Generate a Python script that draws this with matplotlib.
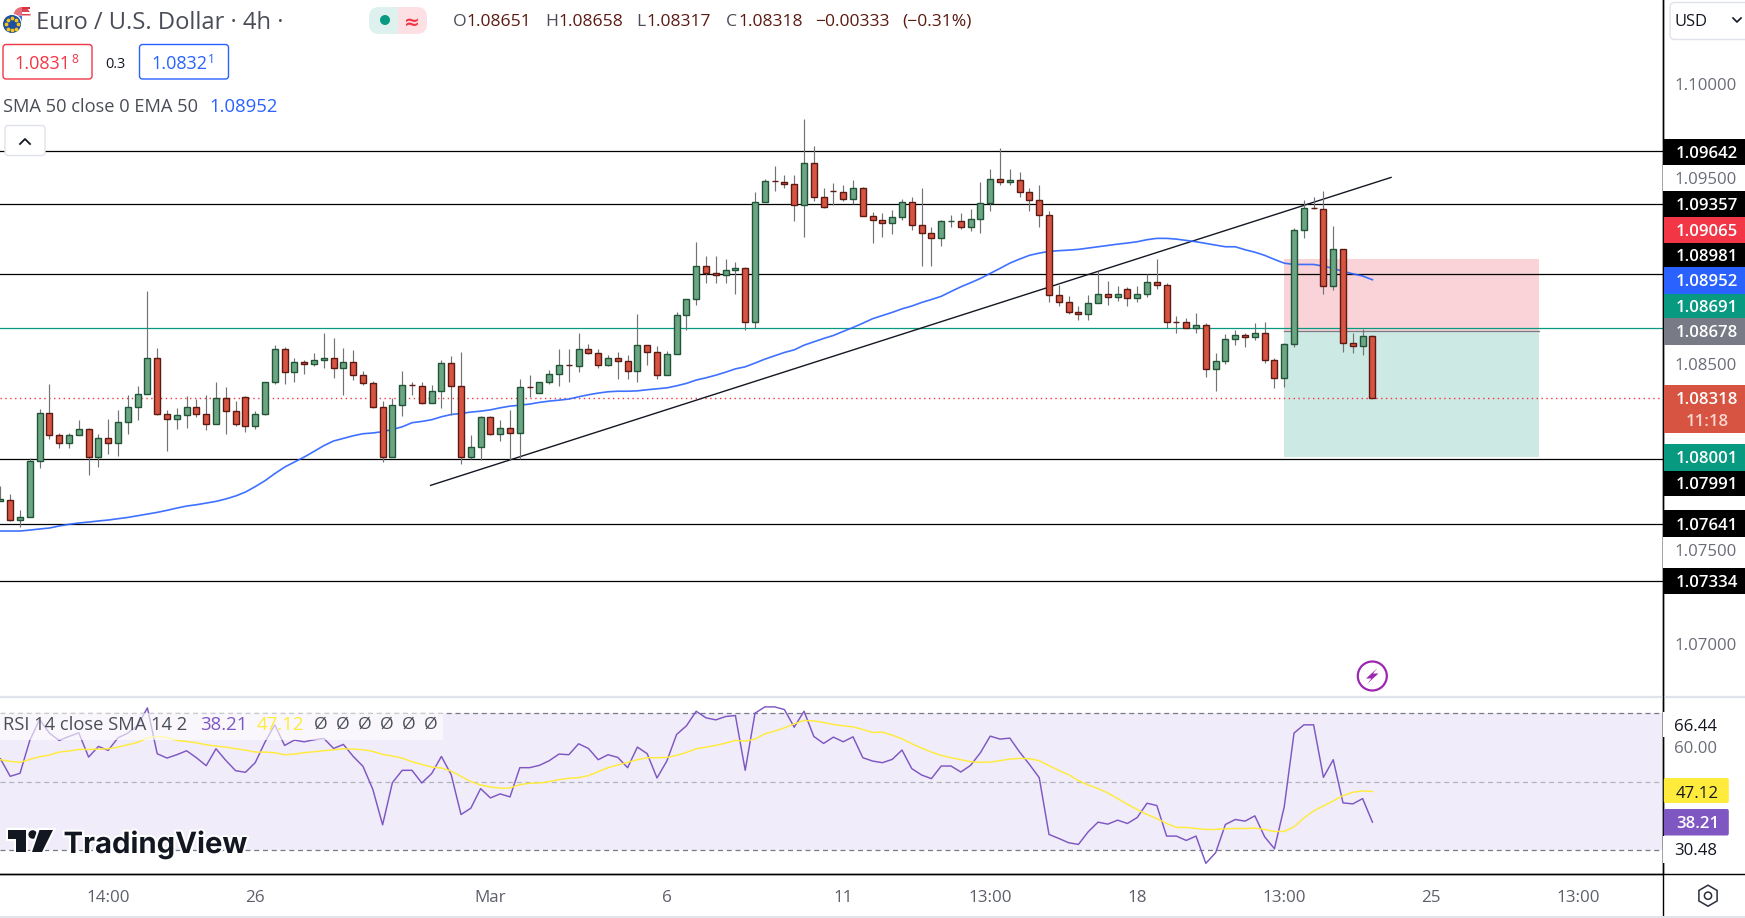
import matplotlib
matplotlib.use("Agg")
import matplotlib.pyplot as plt
import matplotlib.patheffects as pe
from matplotlib.patches import Rectangle, FancyBboxPatch, Circle, Polygon, RegularPolygon, Wedge
import numpy as np

# ---------- data ----------
opens = [1.07767,1.07772,1.07663,1.07681,1.07981,1.08239,1.08121,1.08078,1.08121,1.08153,
1.08001,1.08105,1.08078,1.08191,1.08271,1.08341,1.08534,1.08233,1.08207,1.08228,
1.08271,1.08233,1.08180,1.08319,1.08250,1.08325,1.08169,1.08233,1.08405,1.08582,
1.08459,1.08512,1.08502,1.08523,1.08534,1.08480,1.08512,1.08443,1.08400,1.08271,
1.08001,1.08281,1.08388,1.08383,1.08292,1.08354,1.08506,1.08383,1.08000,1.08056,
1.08217,1.08126,1.08158,1.08131,1.08378,1.08346,1.08405,1.08447,1.08496,1.08490,
1.08582,1.08560,1.08496,1.08533,1.08517,1.08464,1.08603,1.08565,1.08442,1.08555,
1.08764,1.08850,1.09027,1.08989,1.08979,1.09005,1.09016,1.08726,1.09370,1.09483,
1.09477,1.09467,1.09354,1.09580,1.09397,1.09429,1.09424,1.09386,1.09445,1.09295,
1.09274,1.09258,1.09290,1.09370,1.09247,1.09204,1.09177,1.09265,1.09268,1.09236,
1.09279,1.09365,1.09494,1.09478,1.09488,1.09424,1.09381,1.09301,1.08872,1.08834,
1.08780,1.08770,1.08829,1.08877,1.08861,1.08904,1.08855,1.08877,1.08941,1.08925,
1.08727,1.08727,1.08694,1.08711,1.08475,1.08517,1.08635,1.08657,1.08646,1.08668,
1.08523,1.08426,1.08609,1.09220,1.09338,1.09333,1.08920,1.09118,1.08614,1.08598,1.08651]
highs = [1.07845,1.07801,1.07715,1.07997,1.08257,1.08391,1.08132,1.08132,1.08198,1.08158,
1.08123,1.08203,1.08251,1.08332,1.08380,1.08889,1.08587,1.08251,1.08266,1.08326,
1.08310,1.08332,1.08401,1.08375,1.08300,1.08326,1.08246,1.08405,1.08600,1.08591,
1.08530,1.08519,1.08557,1.08664,1.08637,1.08584,1.08573,1.08464,1.08407,1.08300,
1.08319,1.08460,1.08406,1.08406,1.08385,1.08523,1.08544,1.08562,1.08117,1.08222,
1.08222,1.08201,1.08251,1.08421,1.08439,1.08405,1.08469,1.08583,1.08578,1.08669,
1.08610,1.08583,1.08549,1.08562,1.08549,1.08766,1.08603,1.08594,1.08571,1.08780,
1.08850,1.09157,1.09082,1.09077,1.09061,1.09045,1.09021,1.09424,1.09494,1.09560,
1.09512,1.09512,1.09812,1.09667,1.09442,1.09469,1.09458,1.09485,1.09451,1.09318,
1.09308,1.09324,1.09383,1.09394,1.09442,1.09233,1.09274,1.09297,1.09308,1.09329,
1.09479,1.09544,1.09660,1.09547,1.09531,1.09442,1.09458,1.09319,1.08925,1.08866,
1.08809,1.08872,1.09000,1.08947,1.08920,1.08914,1.08920,1.08982,1.09065,1.08936,
1.08755,1.08748,1.08771,1.08721,1.08560,1.08659,1.08680,1.08668,1.08718,1.08723,
1.08530,1.08614,1.09231,1.09378,1.09394,1.09426,1.09238,1.09118,1.08664,1.08686,1.08658]
lows = [1.07767,1.07656,1.07626,1.07681,1.07940,1.08096,1.08049,1.08049,1.08121,1.07904,
1.07946,1.08015,1.08006,1.08123,1.08199,1.08341,1.08224,1.08031,1.08149,1.08157,
1.08214,1.08146,1.08180,1.08123,1.08167,1.08135,1.08151,1.08228,1.08391,1.08391,
1.08401,1.08444,1.08489,1.08477,1.08423,1.08332,1.08412,1.08389,1.08264,1.07972,
1.08001,1.08220,1.08333,1.08285,1.08292,1.08263,1.08229,1.07963,1.07990,1.07984,
1.08118,1.08085,1.07986,1.07990,1.08322,1.08346,1.08392,1.08381,1.08406,1.08455,
1.08553,1.08481,1.08487,1.08417,1.08422,1.08406,1.08492,1.08422,1.08442,1.08555,
1.08680,1.08814,1.08932,1.08937,1.08937,1.08878,1.08682,1.08694,1.09370,1.09426,
1.09442,1.09265,1.09179,1.09372,1.09336,1.09354,1.09372,1.09356,1.09293,1.09147,
1.09184,1.09195,1.09270,1.09217,1.09025,1.09025,1.09131,1.09233,1.09224,1.09211,
1.09201,1.09319,1.09458,1.09458,1.09394,1.09319,1.09233,1.08830,1.08809,1.08766,
1.08734,1.08734,1.08829,1.08814,1.08836,1.08809,1.08830,1.08861,1.08900,1.08694,
1.08664,1.08694,1.08669,1.08428,1.08353,1.08498,1.08600,1.08589,1.08627,1.08503,
1.08369,1.08374,1.08589,1.09174,1.09333,1.08873,1.08895,1.08562,1.08557,1.08551,1.08317]
closes = [1.07774,1.07665,1.07681,1.07981,1.08239,1.08119,1.08078,1.08121,1.08153,1.08001,
1.08105,1.08078,1.08191,1.08271,1.08341,1.08534,1.08233,1.08207,1.08228,1.08271,
1.08233,1.08180,1.08319,1.08250,1.08180,1.08169,1.08233,1.08405,1.08582,1.08459,
1.08512,1.08502,1.08523,1.08534,1.08480,1.08512,1.08443,1.08400,1.08271,1.08001,
1.08282,1.08388,1.08385,1.08292,1.08354,1.08506,1.08383,1.08000,1.08056,1.08217,
1.08126,1.08158,1.08131,1.08378,1.08375,1.08405,1.08447,1.08496,1.08493,1.08582,
1.08560,1.08496,1.08533,1.08517,1.08464,1.08603,1.08565,1.08442,1.08555,1.08764,
1.08850,1.09027,1.08987,1.08979,1.09005,1.09016,1.08726,1.09370,1.09483,1.09480,
1.09465,1.09354,1.09580,1.09397,1.09343,1.09426,1.09386,1.09445,1.09295,1.09274,
1.09257,1.09290,1.09370,1.09247,1.09204,1.09177,1.09268,1.09268,1.09236,1.09279,
1.09365,1.09494,1.09478,1.09488,1.09424,1.09381,1.09301,1.08872,1.08834,1.08780,
1.08770,1.08829,1.08877,1.08861,1.08877,1.08855,1.08877,1.08941,1.08925,1.08727,
1.08724,1.08694,1.08711,1.08475,1.08517,1.08635,1.08657,1.08646,1.08668,1.08523,
1.08426,1.08609,1.09220,1.09338,1.09335,1.08920,1.09118,1.08614,1.08598,1.08652,1.08318]
ema50 = [1.07604,1.07604,1.07604,1.07609,1.07615,1.07620,1.07631,1.07640,1.07647,1.07652,
1.07658,1.07663,1.07670,1.07677,1.07686,1.07695,1.07704,1.07715,1.07727,1.07738,
1.07745,1.07754,1.07763,1.07776,1.07792,1.07813,1.07842,1.07874,1.07912,1.07947,
1.07974,1.08001,1.08031,1.08062,1.08087,1.08101,1.08115,1.08126,1.08130,1.08137,
1.08149,1.08163,1.08185,1.08192,1.08201,1.08217,1.08229,1.08235,1.08242,1.08247,
1.08254,1.08265,1.08274,1.08279,1.08285,1.08294,1.08301,1.08306,1.08312,1.08324,
1.08335,1.08344,1.08351,1.08354,1.08354,1.08356,1.08362,1.08367,1.08372,1.08383,
1.08396,1.08414,1.08426,1.08440,1.08456,1.08474,1.08485,1.08505,1.08526,1.08544,
1.08562,1.08576,1.08601,1.08619,1.08637,1.08653,1.08675,1.08696,1.08719,1.08743,
1.08760,1.08777,1.08796,1.08811,1.08830,1.08846,1.08863,1.08889,1.08914,1.08936,
1.08959,1.08986,1.09013,1.09041,1.09063,1.09083,1.09095,1.09104,1.09108,1.09111,
1.09115,1.09122,1.09129,1.09136,1.09143,1.09149,1.09156,1.09167,1.09174,1.09174,
1.09170,1.09163,1.09156,1.09147,1.09138,1.09129,1.09129,1.09113,1.09100,1.09083,
1.09061,1.09041,1.09034,1.09034,1.09034,1.09025,1.09013,1.08997,1.08984,1.08972,1.08952]
rsi = [56.66,51.54,52.41,61.97,68.06,64.10,61.97,63.13,64.19,57.14,
60.23,59.07,62.74,64.10,66.32,71.44,58.11,56.85,57.82,58.97,
56.95,54.63,59.55,56.17,53.18,52.70,55.50,61.49,66.51,60.52,
62.07,61.58,62.16,62.55,59.65,60.81,57.33,54.44,47.77,37.43,
49.70,53.28,53.28,49.61,52.31,57.33,52.02,40.43,42.26,47.96,
45.26,46.42,45.55,54.05,54.05,54.73,56.08,58.01,57.82,61.00,
59.65,56.37,57.82,57.04,54.05,60.04,58.11,51.05,55.98,63.71,
66.22,70.47,68.54,67.96,68.93,69.22,53.28,69.89,71.73,71.73,
70.95,65.83,70.47,63.13,61.10,62.94,61.58,63.03,56.95,55.98,
55.50,56.46,59.17,53.76,51.92,50.86,54.53,54.53,52.79,54.73,
58.40,63.23,62.36,62.65,58.59,55.01,51.15,34.63,33.47,32.22,
31.73,35.41,38.21,37.63,38.79,37.82,39.56,43.71,43.04,34.15,
34.15,32.89,34.15,26.23,29.32,37.53,38.98,38.50,40.04,33.96,
30.48,42.65,64.10,66.51,66.51,51.25,56.37,43.81,43.52,45.06,38.21]
rsi_sma = [56.37,55.88,55.59,56.46,57.24,57.72,58.59,58.88,59.36,59.36,
59.46,59.55,60.04,60.71,61.39,62.74,63.13,62.84,61.97,61.68,
61.29,60.71,60.33,60.04,59.55,59.17,58.59,58.59,58.40,57.82,
58.01,58.40,58.69,58.97,59.27,59.55,59.46,59.27,58.78,57.91,
57.43,56.85,55.79,55.01,54.24,53.95,53.08,51.54,49.99,49.03,
48.45,48.06,48.16,49.12,49.51,49.61,49.99,50.57,50.96,51.15,
51.73,52.89,54.05,54.82,55.59,56.37,56.95,56.95,57.04,57.62,
58.49,59.55,60.04,60.52,61.20,61.97,61.78,62.36,63.90,64.67,
65.64,66.80,67.77,67.67,67.19,66.61,66.22,65.93,65.16,64.29,
64.39,63.52,62.45,61.00,59.75,58.59,57.62,56.95,56.37,55.79,
55.59,55.69,56.08,56.56,56.75,56.66,56.08,54.63,53.28,52.02,
50.28,49.03,47.96,46.71,45.06,43.42,41.88,40.43,39.27,37.82,
36.66,36.66,36.37,36.08,36.08,36.27,36.37,36.37,36.47,36.08,
35.50,35.50,36.85,39.37,41.49,42.94,44.39,45.93,46.90,47.29,47.12]

black_levels = [1.09642, 1.09357, 1.08981, 1.07991, 1.07641, 1.07334]
resistance_green = 1.08691
last_price = 1.08318
entry_price = 1.08678
stop_price = 1.09065
target_price = 1.08001
trend_x = [43.9, 141.9]
trend_y = [1.07849, 1.09501]
position_x = [131.0, 157.0]

price_ticks = [1.10000, 1.09500, 1.08500, 1.07500, 1.07000]
time_pos = [11, 26, 50, 68, 86, 101, 116, 131, 146, 161]
time_labels = ["14:00", "26", "Mar", "6", "11", "13:00", "18", "13:00", "25", "13:00"]
rsi_ticks = [66.44, 60.00, 30.48]
tag_texts = ["1.09642","1.09357","1.09065","1.08981","1.08952","1.08691","1.08678","1.08001","1.07991","1.07641","1.07334"]

# ---------- styles ----------
FONT = "Open Sans"
plt.rcParams["font.family"] = [FONT, "DejaVu Sans"]
W, H = 1745, 918
AXR, PBOT, RTOP, RBOT = 1663.3, 696.7, 697.3, 874.3
UP, DOWN, UPE, DOWNE, WICK = "#6ba583", "#d75442", "#225437", "#5b1a13", "#737375"
TEXT = "#4a4d57"
px = 0.72

fig = plt.figure(figsize=(W/100, H/100), dpi=100, facecolor="white")
ax = fig.add_axes([0, 1-PBOT/H, AXR/W, PBOT/H])
rx = fig.add_axes([0, 1-RBOT/H, AXR/W, (RBOT-RTOP)/H])
ui = fig.add_axes([0, 0, 1, 1], zorder=10)
ui.set_xlim(0, W); ui.set_ylim(H, 0); ui.axis("off"); ui.patch.set_alpha(0)

idx = np.arange(len(closes))
o, h, l, c = map(np.array, (opens, highs, lows, closes))
XL = (-0.04, 169.68)

# ---------- price pane ----------
ax.set_xlim(*XL); ax.set_ylim(1.067152, 1.104528)
ax.add_patch(Rectangle((position_x[0], entry_price), position_x[1]-position_x[0], stop_price-entry_price, fc="#f9d3d7", ec="none", zorder=1))
ax.add_patch(Rectangle((position_x[0], target_price), position_x[1]-position_x[0], entry_price-target_price, fc="#cde9e3", ec="none", zorder=1))
for lv in black_levels:
    ax.axhline(lv, color="black", lw=0.9, zorder=2)
ax.axhline(resistance_green, color="#089981", lw=0.9, zorder=2)
ax.plot(position_x, [entry_price]*2, color="#787b86", lw=0.9, zorder=2)
ax.axhline(last_price, color="#f23645", lw=1.0, ls=(0, (1, 2.5)), zorder=2)
ax.plot(trend_x, trend_y, color="#131722", lw=1.0, zorder=3)
ax.plot(idx, ema50, color="#2962ff", lw=1.2, zorder=3, alpha=.9)
ax.vlines(idx, l, h, color=WICK, lw=0.85, zorder=4)
up = c >= o
ax.bar(idx[up], (c-o)[up], bottom=o[up], width=0.62, color=UP, edgecolor=UPE, linewidth=1.0, zorder=5)
ax.bar(idx[~up], (o-c)[~up], bottom=c[~up], width=0.62, color=DOWN, edgecolor=DOWNE, linewidth=1.0, zorder=5)

ax.yaxis.tick_right()
ax.set_yticks(price_ticks, [f"{t:.5f}" for t in price_ticks])
ax.tick_params(axis="y", length=0, pad=7.8, labelsize=16.7*px, labelcolor="#6a6d78")
ax.set_xticks([])
for s in ("top", "left", "bottom"):
    ax.spines[s].set_visible(False)
ax.spines["right"].set_color("black"); ax.spines["right"].set_linewidth(1.0)

# ---------- RSI pane ----------
rx.set_xlim(*XL); rx.set_ylim(23.04, 74.52)
rx.axhspan(30, 70, color="#f0ecf9", lw=0, zorder=1)
rx.axhline(70, color="#787b86", lw=0.9, ls=(0, (4, 3)), zorder=2)
rx.axhline(50, color="#b2b5be", lw=0.9, ls=(0, (4, 3)), zorder=2)
rx.axhline(30, color="#787b86", lw=0.9, ls=(0, (4, 3)), zorder=2)
rx.plot(idx, rsi, color="#7e57c2", lw=1.05, zorder=3)
rx.plot(idx, rsi_sma, color="#ffeb3b", lw=1.05, zorder=3)
rx.yaxis.tick_right()
rx.set_yticks(rsi_ticks, [f"{t:.2f}" for t in rsi_ticks])
rx.tick_params(axis="y", length=0, pad=7.5, labelsize=16.7*px)
for lab, col in zip(rx.get_yticklabels(), ["#131722", "#6a6d78", "#131722"]):
    lab.set_color(col)
rx.set_xticks(time_pos, time_labels)
rx.tick_params(axis="x", length=0, pad=11.5, labelsize=17*px, labelcolor="#5d606b")
for s in ("top", "left"):
    rx.spines[s].set_visible(False)
rx.spines["right"].set_color("black"); rx.spines["bottom"].set_color("black")
rx.spines["right"].set_linewidth(1.0); rx.spines["bottom"].set_linewidth(1.0)

# ---------- frame ----------
ui.plot([0, W], [RBOT, RBOT], color="black", lw=1.0)
ui.plot([0, W], [PBOT+.2, PBOT+.2], color="#e0e3eb", lw=1.6, zorder=1)
ui.plot([0, W], [916.7, 916.7], color="#e0e3eb", lw=1.4)
ui.plot([AXR, AXR], [0, 916], color="black", lw=1.0, zorder=1)
for y0, y1 in [(165, 191), (537, 568), (712, 737), (836, 863)]:
    ui.add_patch(Rectangle((AXR-0.4, y0), 3, y1-y0, fc="white", ec="none", zorder=2))

def t(x, y, s, size, color=TEXT, ha="left", weight="normal", z=6, **kw):
    return ui.text(x, y, s, fontsize=size*px, color=color, ha=ha, va="center_baseline", fontweight=weight, zorder=z, **kw)

# ---------- price tags ----------
tag_y = [(138.5,164.6),(191.4,216.6),(216.6,242.6),(242.6,266.7),(266.7,293.5),(293.5,317.6),(317.6,344.8),(443.9,470.7),(470.7,496),(510,537),(568,594)]
tag_col = ["black","black","#f23645","black","#2962ff","#089981","#787b86","#089981","black","black","black"]
for s, (a, b), col in zip(tag_texts, tag_y, tag_col):
    ui.add_patch(Rectangle((AXR+.5, a), W-AXR, b-a, fc=col, ec="none", zorder=5))
    t(1707, (a+b)/2, s, 16.7, color="white", ha="center", weight="semibold")
ui.add_patch(Rectangle((AXR+.5, 384.6), W-AXR, 48.6, fc="#d75442", ec="none", zorder=5))
t(1707, 398, f"{last_price:.5f}", 16.7, color="white", ha="center", weight="semibold")
t(1707, 419.5, "11:18", 16.7, color="#fbd5cf", ha="center", weight="semibold")
# RSI tags
ui.add_patch(FancyBboxPatch((AXR+.5, 778), 65, 25, boxstyle="round,pad=0,rounding_size=2", fc="#ffeb3b", ec="none", zorder=5))
t(1697.5, 791.5, "47.12", 16.7, color="#131722", ha="center")
ui.add_patch(FancyBboxPatch((AXR+.5, 809), 65, 26.5, boxstyle="round,pad=0,rounding_size=2", fc="#7e57c2", ec="none", zorder=5))
t(1697.5, 822.5, "38.21", 16.7, color="white", ha="center", weight="semibold")

# USD box
ui.add_patch(FancyBboxPatch((1670, 2.5), 80, 37, boxstyle="round,pad=0,rounding_size=5", fc="white", ec="#e0e3eb", lw=1, zorder=5))
t(1675, 20.5, "USD", 16.5, color="#131722")
ui.plot([1733, 1737, 1741], [18, 22, 18], color="#131722", lw=1.2, zorder=6)

# settings hexagon
ui.add_patch(RegularPolygon((1708, 895.7), 6, radius=10.5, orientation=0, fc="none", ec="#2a2e39", lw=1.1, zorder=6))
ui.add_patch(Circle((1708, 895.7), 3.6, fc="none", ec="#2a2e39", lw=1.1, zorder=6))

# ---------- header ----------
# US flag disc behind the EU disc
ui.add_patch(Circle((22, 15.5), 8.5, fc="white", ec="none", zorder=4))
ui.add_patch(Wedge((22, 15.5), 8.5, 270, 360, fc="#d8313f", ec="none", zorder=5, alpha=.9))
ui.add_patch(Wedge((22, 15.5), 8.5, 90, 180, fc="#3f6fd1", ec="none", zorder=5))
ui.add_patch(Wedge((22, 15.5), 8.5, 180, 270, fc="#e8707a", ec="none", zorder=5))
ui.add_patch(Rectangle((22, 7), 8.5, 2.4, fc="#d8313f", ec="none", zorder=5))
ui.add_patch(Rectangle((22, 12), 8.5, 2.0, fc="white", ec="none", zorder=5))
ui.add_patch(Circle((12, 24), 10.2, fc="white", ec="none", zorder=6))
ui.add_patch(Circle((12, 24), 9, fc="#1f4fa3", ec="none", zorder=6))
ui.scatter([8, 12, 16, 6, 18, 8, 12, 16], [19.5, 18, 19.5, 24, 24, 28.5, 30, 28.5], s=3, c="#f5c518", zorder=7)
t(36, 20, "Euro / U.S. Dollar \u00b7 4h \u00b7", 23.7, color="#4a4d57")

ui.add_patch(FancyBboxPatch((369, 7), 29, 27, boxstyle="round,pad=0,rounding_size=10", fc="#dff1ee", ec="none", zorder=4))
ui.add_patch(FancyBboxPatch((398, 7), 29, 27, boxstyle="round,pad=0,rounding_size=10", fc="#fde0e4", ec="none", zorder=4))
ui.add_patch(Rectangle((391, 7), 7, 27, fc="#dff1ee", ec="none", zorder=4))
ui.add_patch(Rectangle((398, 7), 8, 27, fc="#fde0e4", ec="none", zorder=4))
ui.add_patch(Circle((385, 20), 5, fc="#089981", ec="none", zorder=5))
t(411.5, 20, "\u2248", 19, color="#f23645", ha="center", weight="bold", family="DejaVu Sans")

for x, s in [(453, "O"), (545, "H"), (636.5, "L"), (726, "C")]:
    t(x, 20, s, 17.5, color="#4a4d57")
for x, s in [(466, "1.08651"), (558, "1.08658"), (646, "1.08317"), (738, "1.08318"), (815, "\u22120.00333"), (902, "(\u22120.31%)")]:
    t(x, 20, s, 17.5, color="#5b1a13")

ui.add_patch(FancyBboxPatch((3, 44.5), 89, 34.5, boxstyle="round,pad=0,rounding_size=3", fc="white", ec="#f23645", lw=1.0, zorder=5))
t(14, 62, "1.0831", 18, color="#f23645")
t(71, 58, "8", 12, color="#f23645")
t(115, 62, "0.3", 14.5, color="#131722", ha="center")
ui.add_patch(FancyBboxPatch((139.5, 44.5), 89, 34.5, boxstyle="round,pad=0,rounding_size=3", fc="white", ec="#2962ff", lw=1.0, zorder=5))
t(151, 62, "1.0832", 18, color="#2962ff")
t(208, 58, "1", 12, color="#2962ff")
t(3, 105, "SMA 50 close 0 EMA 50", 18.3, color="#4a4d57")
t(209, 105, "1.08952", 18.5, color="#2962ff")

ui.add_patch(FancyBboxPatch((5, 125.5), 40, 30, boxstyle="round,pad=0,rounding_size=3", fc="white", ec="#e0e3eb", lw=1.0, zorder=5))
ui.plot([20, 25, 30], [144, 139, 144], color="#131722", lw=1.3, zorder=6)

# lightning
ui.add_patch(Circle((1372.3, 676), 14.5, fc="white", ec="#9c27b0", lw=1.6, zorder=5))
ui.add_patch(Polygon([(1377.5, 668), (1366, 678.5), (1371.5, 678.5), (1367, 684), (1378.5, 673.5), (1373, 673.5)], fc="#9c27b0", ec="none", zorder=6))

# ---------- RSI legend ----------
ui.add_patch(Rectangle((0, 713), 443, 27, fc="white", alpha=.62, ec="none", zorder=4))
t(3, 722.5, "RSI 14 close SMA 14 2", 18.4, color="#4a4d57")
t(200, 722.5, "38.21", 18.7, color="#7e57c2")
t(257, 722.5, "47.12", 18.7, color="#ffeb3b")
for i in range(6):
    t(314 + i*22, 722.5, "\u00d8", 17.5, color="#4a4d57")

# ---------- logo ----------
LOGO = "#131722"
halo = [pe.withStroke(linewidth=3.0, foreground="white")]
for p in [Polygon([(8, 830), (26, 830), (26, 852), (16, 852), (16, 838.5), (8, 838.5)], fc=LOGO, ec="none", zorder=7),
          Circle((32.7, 834.5), 4.3, fc=LOGO, ec="none", zorder=7),
          Polygon([(39.5, 830), (53, 830), (42, 852), (32, 852)], fc=LOGO, ec="none", zorder=7)]:
    p.set_path_effects(halo)
    ui.add_patch(p)
txt = t(63.5, 842, "TradingView", 29.3, color=LOGO, weight="bold", z=7, family="Inter")
txt.set_path_effects(halo)

fig.savefig("out.png", dpi=100, facecolor="white")
